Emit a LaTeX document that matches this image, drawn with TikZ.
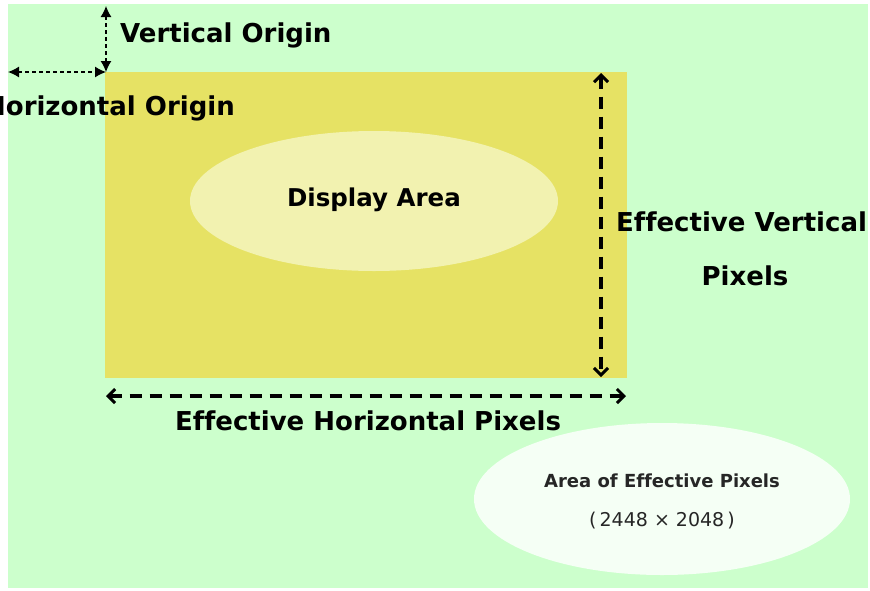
\documentclass[tikz,border=0pt]{standalone}
\usepackage{fontspec}
\setmainfont[Ligatures=NoCommon]{DejaVu Sans}
\usetikzlibrary{arrows.meta,shapes.geometric}
\definecolor{bggreen}{HTML}{CCFFCC}
\definecolor{sensor}{HTML}{E6E264}
\definecolor{disp}{HTML}{F2F2B0}
\definecolor{effell}{HTML}{F5FFF5}
\tikzset{
  lbl/.style={font=\bfseries\fontsize{26}{30}\selectfont, text=black, inner sep=0pt},
  small/.style={font=\bfseries\fontsize{18}{22}\selectfont, text=black!85, inner sep=0pt},
  thinarrow/.style={draw=black, line width=1.2pt, dash pattern=on 4pt off 3pt, {Latex[length=11pt,width=11pt]}-{Latex[length=11pt,width=11pt]}},
  thickarrow/.style={draw=black, line width=3.5pt, dash pattern=on 12pt off 8pt, {Straight Barb[length=7pt,width=14pt,line width=3pt]}-{Straight Barb[length=7pt,width=14pt,line width=3pt]}}
}
\begin{document}
\begin{tikzpicture}[x=1pt,y=-1pt]
\useasboundingbox (0,0) rectangle (870,590);
\fill[white] (0,0) rectangle (870,590);
\begin{scope}
\clip (0,0) rectangle (870,590);
\fill[bggreen] (8,4) rectangle (868,588);
\node[fill=sensor, minimum width=522pt, minimum height=306pt, inner sep=0pt, anchor=north west] (sensor) at (105,72) {};
\node[ellipse, fill=disp, minimum width=368pt, minimum height=140pt, inner sep=0pt] (disp) at (374,201) {};
\node[lbl, font=\bfseries\fontsize{24.5}{28}\selectfont] (displbl) at (374,200) {Display Area};
\node[ellipse, fill=effell, minimum width=376pt, minimum height=152pt, inner sep=0pt] (eff) at (662,499) {};
\node[small] (efflbl1) at (662,481) {Area of Effective Pixels};
\node[small, font=\fontsize{19}{22}\selectfont] (efflbl2) at (662,521) {(\,2448 × 2048\,)};
\coordinate (origin) at (106,72);
\coordinate (vtop) at (106,6);
\coordinate (hleft) at (8,72);
\draw[thinarrow] (vtop) -- (origin);
\draw[thinarrow] (hleft) -- (origin);
\node[lbl, anchor=west] (vlbl) at (120,35) {Vertical Origin};
\node[lbl, anchor=east] (hlbl) at (235,108) {Horizontal Origin};
\coordinate (vt) at (601,73);
\coordinate (vb) at (601,377);
\draw[thickarrow] (vt) -- (vb);
\coordinate (hl) at (106,396);
\coordinate (hr) at (626,396);
\draw[thickarrow] (hl) -- (hr);
\node[lbl, anchor=west] (evlbl) at (616,222) {Effective Vertical};
\node[lbl] (evlbl2) at (745,276) {Pixels};
\node[lbl] (ehlbl) at (368,421) {Effective Horizontal Pixels};
\end{scope}
\end{tikzpicture}
\end{document}
